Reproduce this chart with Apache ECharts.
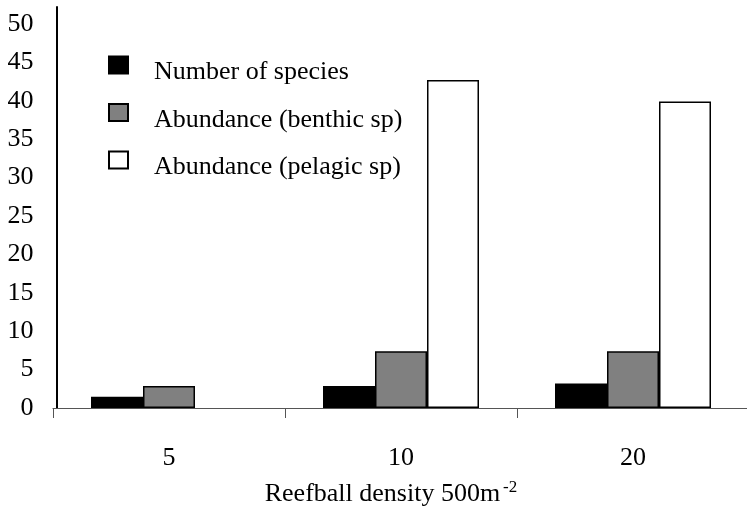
<!DOCTYPE html>
<html>
<head>
<meta charset="utf-8">
<script src="https://cdn.jsdelivr.net/npm/echarts@6/dist/echarts.min.js"></script>
<style>html,body{margin:0;padding:0;background:#fff}#c{width:747px;height:513px}</style>
</head>
<body>
<div id="c"></div>
<script>
var categories = ['5', '10', '20'];
var numberOfSpecies = [1.45, 2.85, 3.2];
var abundanceBenthic = [2.85, 7.4, 7.4];
var abundancePelagic = [0, 42.7, 39.9];
var seriesNames = ['Number of species', 'Abundance (benthic sp)', 'Abundance (pelagic sp)'];

var font = 'Liberation Serif, Times New Roman, serif';
var chart = echarts.init(document.getElementById('c'), null, {renderer: 'canvas'});
function mk(name, data, color) {
  return {
    name: name, type: 'bar', barWidth: 52, barGap: '0%',
    data: data.map(function (v) {
      return v === 0 ? {value: v, itemStyle: {borderWidth: 0}} : v;
    }),
    itemStyle: {color: color, borderColor: '#000', borderWidth: 1.5},
    emphasis: {disabled: true}, animation: false
  };
}
chart.setOption({
  animation: false,
  grid: {left: 53, right: -2, top: 7, bottom: 105, containLabel: false, outerBoundsMode: 'none'},
  legend: {
    orient: 'vertical', left: 103, top: 44, itemWidth: 19, itemHeight: 17, itemGap: 11,
    icon: 'rect', selectedMode: false,
    formatter: function (name) { return '{t|' + name + '}'; },
    textStyle: {
      fontFamily: font, fontSize: 26, color: '#000', padding: [15, 0, 0, 21], lineHeight: 17,
      rich: {t: {fontFamily: font, fontSize: 26, color: '#000', lineHeight: 17}}
    },
    data: seriesNames
  },
  xAxis: {
    type: 'category', data: categories,
    axisLine: {lineStyle: {color: '#555', width: 1.2}},
    axisTick: {show: true, length: 10, lineStyle: {color: '#555'}},
    axisLabel: {fontFamily: font, fontSize: 26, color: '#000', margin: 37},
    name: '{a|Reefball density 500m}{s|-2}',
    nameLocation: 'middle', nameGap: 71,
    nameTextStyle: {
      padding: [0, 20, 0, 0],
      rich: {
        a: {fontFamily: font, fontSize: 26, color: '#000', lineHeight: 30},
        s: {fontFamily: font, fontSize: 17, color: '#000', lineHeight: 16, verticalAlign: 'top', padding: [0, 0, 0, 3]}
      }
    }
  },
  yAxis: {
    type: 'value', min: 0, max: 52.2, interval: 5, offset: -3.5,
    axisLine: {show: true, lineStyle: {color: '#000', width: 2}},
    axisTick: {show: false},
    splitLine: {show: false},
    axisLabel: {
      fontFamily: font, fontSize: 26, color: '#000', margin: 23,
      formatter: function (v) { return (v % 5 === 0) ? String(v) : ''; }
    }
  },
  series: [
    mk(seriesNames[0], numberOfSpecies, '#000000'),
    mk(seriesNames[1], abundanceBenthic, '#808080'),
    mk(seriesNames[2], abundancePelagic, '#ffffff')
  ]
});
</script>
</body>
</html>
